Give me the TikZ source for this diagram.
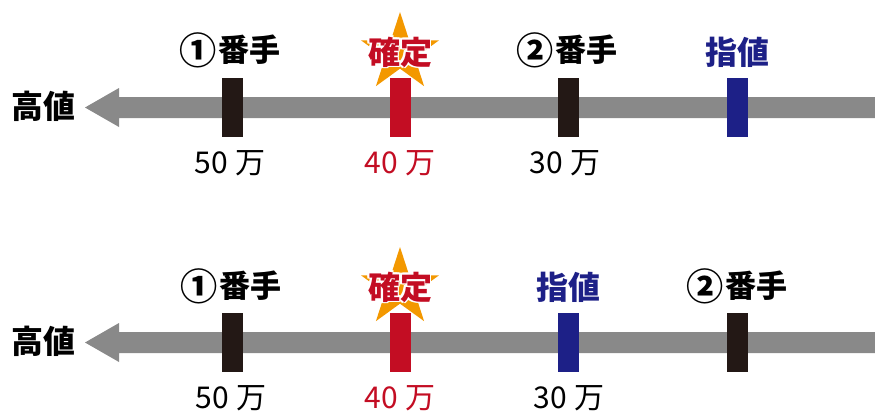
\documentclass[tikz,border=0pt]{standalone}
\usepackage{fontspec}
\setmainfont{Noto Sans CJK JP}
\usetikzlibrary{shapes.geometric}
\definecolor{axisgray}{HTML}{898989}
\definecolor{mkblack}{HTML}{231815}
\definecolor{mkred}{HTML}{C30D23}
\definecolor{mkblue}{HTML}{1D2087}
\definecolor{starorange}{HTML}{F39800}
\newcommand\cnum[1]{\raisebox{-0.07em}{\scalebox{1.2}{#1}}\kern0.05em}
\begin{document}
\begin{tikzpicture}[x=1pt,y=-1pt,
  markbox/.style={rectangle, minimum width=21pt, minimum height=59pt, inner sep=0pt, draw=none, fill=#1},
  toptext/.style={font=\bfseries\fontsize{31}{31}\selectfont, inner sep=0pt, text=#1},
  bigtext/.style={font=\bfseries\fontsize{32}{32}\selectfont, inner sep=0pt, text=#1},
  valtext/.style={font=\fontsize{30}{30}\selectfont, inner sep=0pt, text=#1},
  starmark/.style={star, star points=5, star point ratio=2.618, minimum size=82pt, inner sep=0pt, draw=none, fill=starorange}]
\useasboundingbox (0,0) rectangle (875,413);

% ---------- row 1 ----------
\coordinate (tip1) at (85,107.5);
\fill[axisgray] (tip1) -- (119,88) -- (119,97) -- (875,97) -- (875,118) -- (119,118) -- (119,127) -- cycle;
\node[bigtext=black] (high1) at (44,106) {高値};
\node[starmark] (star1) at (400,53) {};
\node[markbox=mkblack] (m11) at (232.5,107.5) {};
\node[markbox=mkred]   (m12) at (400.5,107.5) {};
\node[markbox=mkblack] (m13) at (568.5,107.5) {};
\node[markbox=mkblue]  (m14) at (737,107.5) {};
\node[toptext=black] (l11) at (230,50) {\cnum{①}番手};
\foreach \a in {0,45,...,315}
  \node[bigtext=white, shift={(\a:1.8)}] at (400,52) {確定};
\node[bigtext=mkred] (l12) at (400,52) {確定};
\node[toptext=black] (l13) at (567,50) {\cnum{②}番手};
\node[bigtext=mkblue] (l14) at (737.5,52) {指値};
\node[valtext=black] (v11) at (230,163) {50 万};
\node[valtext=mkred] (v12) at (400,163) {40 万};
\node[valtext=black] (v13) at (565,163) {30 万};

% ---------- row 2 ----------
\coordinate (tip2) at (85,342.5);
\fill[axisgray] (tip2) -- (119,323) -- (119,332) -- (875,332) -- (875,353) -- (119,353) -- (119,362) -- cycle;
\node[bigtext=black] (high2) at (44,341) {高値};
\node[starmark] (star2) at (400,288) {};
\node[markbox=mkblack] (m21) at (232.5,342.5) {};
\node[markbox=mkred]   (m22) at (400.5,342.5) {};
\node[markbox=mkblue]  (m23) at (568.5,342.5) {};
\node[markbox=mkblack] (m24) at (737,342.5) {};
\node[toptext=black] (l21) at (231,286) {\cnum{①}番手};
\foreach \a in {0,45,...,315}
  \node[bigtext=white, shift={(\a:1.8)}] at (400,287) {確定};
\node[bigtext=mkred] (l22) at (400,287) {確定};
\node[bigtext=mkblue] (l23) at (568.5,287) {指値};
\node[toptext=black] (l24) at (737,286) {\cnum{②}番手};
\node[valtext=black] (v21) at (231,398) {50 万};
\node[valtext=mkred] (v22) at (400,398) {40 万};
\node[valtext=black] (v23) at (569,398) {30 万};
\end{tikzpicture}
\end{document}
